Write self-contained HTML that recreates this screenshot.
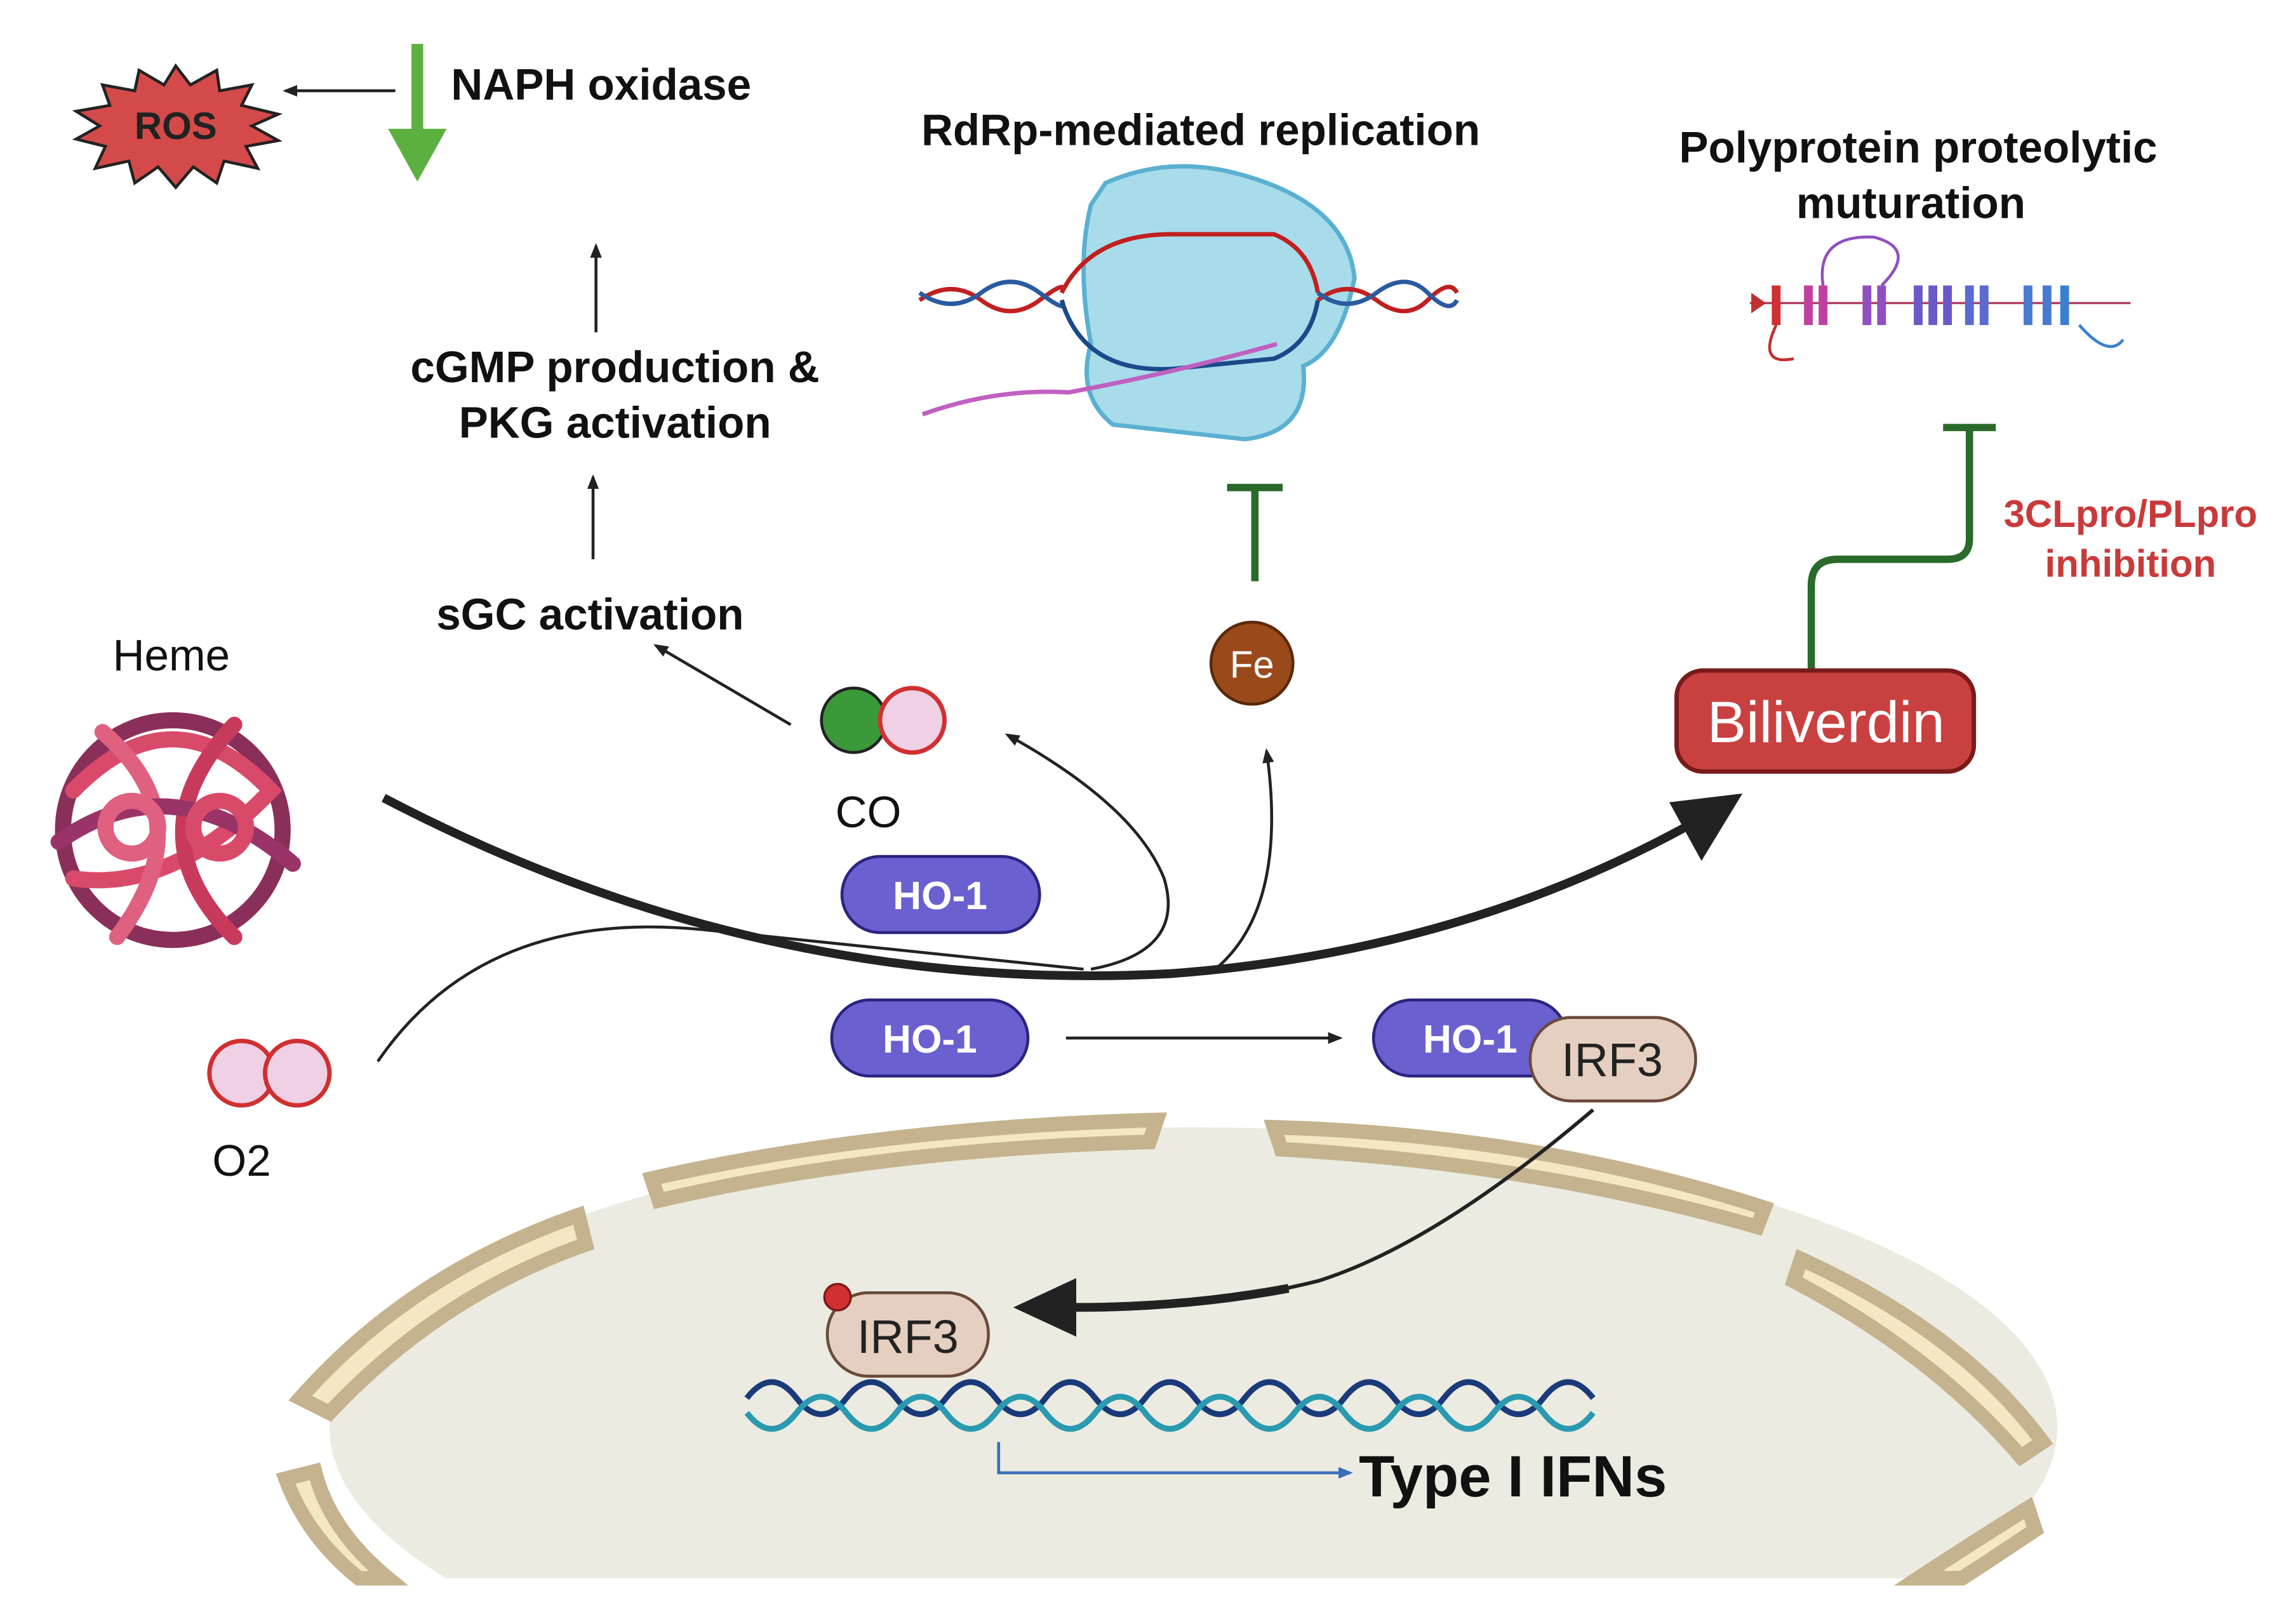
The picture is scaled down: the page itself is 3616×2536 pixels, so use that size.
<!DOCTYPE html>
<html><head><meta charset="utf-8"><style>
html,body{margin:0;padding:0;background:#fff;width:3616px;height:2536px;overflow:hidden}
svg{display:block}
text{font-family:"Liberation Sans",sans-serif}
.b{font-weight:bold}
</style></head><body>
<svg width="3616" height="2536" viewBox="0 0 1568 1099.7" xmlns="http://www.w3.org/2000/svg">
<defs>
<marker id="ah" markerWidth="10" markerHeight="10" refX="8" refY="5" orient="auto" markerUnits="userSpaceOnUse"><path d="M0,1 L10,5 L0,9 Z" fill="#222"/></marker>
<marker id="ahb" markerWidth="10" markerHeight="10" refX="8" refY="5" orient="auto" markerUnits="userSpaceOnUse"><path d="M0,1 L10,5 L0,9 Z" fill="#3a6fb8"/></marker>
</defs>
<ellipse cx="815" cy="975" rx="590" ry="205" fill="#ecebe1"/>
<rect x="0" y="1078" width="1568" height="30" fill="#fff"/>
<g fill="#f4e8c4" stroke="#c4b38e" stroke-width="10" stroke-linecap="round">
<path d="M445,805 Q600,770 790,765 L785,780 Q600,785 450,820 Z"/>
<path d="M870,770 Q1050,775 1205,825 L1200,838 Q1050,795 875,785 Z"/>
<path d="M205,955 Q280,870 395,830 L400,850 Q300,885 225,965 Z"/>
<path d="M1230,860 Q1340,910 1395,985 L1380,995 Q1320,925 1225,875 Z"/>
<path d="M195,1010 Q210,1050 245,1078 L265,1078 Q225,1045 215,1005 Z"/>
<path d="M1310,1078 Q1345,1055 1385,1030 L1390,1045 Q1360,1065 1340,1078 Z"/>
</g>
<polygon points="120,45 130,58 148,48 150,62 172,58 165,72 190,78 172,86 190,96 168,100 176,115 153,110 148,125 132,114 120,128 108,114 92,125 88,110 65,115 72,100 52,95 68,86 52,76 75,72 70,58 92,62 95,48 112,58" fill="#d44a4a" stroke="#222" stroke-width="2"/>
<text x="120" y="95" font-size="26" class="b" text-anchor="middle" fill="#222">ROS</text>
<line x1="270" y1="62" x2="195" y2="62" stroke="#222" stroke-width="2" marker-end="url(#ah)"/>
<line x1="285" y1="30" x2="285" y2="95" stroke="#5cb040" stroke-width="8"/>
<polygon points="265,88 305,88 285,124" fill="#5cb040"/>
<text x="308" y="68" font-size="30" class="b" fill="#111">NAPH oxidase</text>
<line x1="407" y1="227" x2="407" y2="168" stroke="#222" stroke-width="2" marker-end="url(#ah)"/>
<text x="420" y="261" font-size="30" class="b" text-anchor="middle" fill="#111">cGMP production &amp;</text>
<text x="420" y="299" font-size="30" class="b" text-anchor="middle" fill="#111">PKG activation</text>
<line x1="405" y1="382" x2="405" y2="326" stroke="#222" stroke-width="2" marker-end="url(#ah)"/>
<text x="403" y="430" font-size="30" class="b" text-anchor="middle" fill="#111">sGC activation</text>
<line x1="540" y1="495" x2="448" y2="441" stroke="#222" stroke-width="2" marker-end="url(#ah)"/>
<text x="117" y="458" font-size="30" text-anchor="middle" fill="#111">Heme</text>
<g fill="none" stroke-width="11" stroke-linecap="round">
<circle cx="118" cy="567" r="75" stroke="#8a2f5a"/>
<path d="M50,540 Q118,470 185,540 Q118,610 50,600" stroke="#d94a6a"/>
<path d="M70,500 Q140,560 80,640" stroke="#e06080"/>
<path d="M160,495 Q90,570 160,640" stroke="#c83a5c"/>
<path d="M40,575 Q118,520 200,590" stroke="#9a3468"/>
<circle cx="90" cy="565" r="18" stroke="#e06080"/>
<circle cx="150" cy="565" r="18" stroke="#d94a6a"/>
</g>
<circle cx="165" cy="733" r="22" fill="#f0d0e4" stroke="#d03030" stroke-width="3"/>
<circle cx="203" cy="733" r="22" fill="#f0d0e4" stroke="#d03030" stroke-width="3"/>
<text x="165" y="803" font-size="30" text-anchor="middle" fill="#111">O2</text>
<circle cx="583" cy="492" r="22" fill="#3a9a3a" stroke="#222" stroke-width="2"/>
<circle cx="623" cy="492" r="22" fill="#f0d0e4" stroke="#d03030" stroke-width="3"/>
<text x="593" y="565" font-size="30" text-anchor="middle" fill="#111">CO</text>
<path d="M258,725 Q330,620 480,635 Q620,650 740,662" fill="none" stroke="#222" stroke-width="2"/>
<path d="M262,545 Q520,680 800,665 Q1000,650 1160,560" fill="none" stroke="#222" stroke-width="6"/>
<polygon points="1190,542 1140,548 1162,588" fill="#222"/>
<path d="M745,662 Q810,650 795,600 Q775,550 688,502" fill="none" stroke="#222" stroke-width="2" marker-end="url(#ah)"/>
<path d="M830,662 Q880,620 865,513" fill="none" stroke="#222" stroke-width="2" marker-end="url(#ah)"/>
<rect x="575" y="585" width="135" height="52" rx="26" fill="#6a60cf" stroke="#2a2480" stroke-width="2"/>
<text x="642" y="621" font-size="27" class="b" text-anchor="middle" fill="#fff">HO-1</text>
<rect x="568" y="683" width="134" height="52" rx="26" fill="#6a60cf" stroke="#2a2480" stroke-width="2"/>
<text x="635" y="719" font-size="27" class="b" text-anchor="middle" fill="#fff">HO-1</text>
<line x1="728" y1="709" x2="915" y2="709" stroke="#222" stroke-width="2" marker-end="url(#ah)"/>
<rect x="938" y="683" width="132" height="52" rx="26" fill="#6a60cf" stroke="#2a2480" stroke-width="2"/>
<text x="1004" y="719" font-size="27" class="b" text-anchor="middle" fill="#fff">HO-1</text>
<rect x="1045" y="695" width="113" height="57" rx="28" fill="#e5cfc0" stroke="#6a4a3a" stroke-width="2"/>
<text x="1101" y="735" font-size="32" text-anchor="middle" fill="#222">IRF3</text>
<circle cx="855" cy="453" r="28" fill="#9a4a1a" stroke="#5a2a0a" stroke-width="2"/>
<text x="855" y="463" font-size="26" text-anchor="middle" fill="#fff">Fe</text>
<line x1="857" y1="397" x2="857" y2="333" stroke="#2a6a2a" stroke-width="5"/>
<line x1="838" y1="333" x2="876" y2="333" stroke="#2a6a2a" stroke-width="5"/>
<path d="M1237,458 L1237,400 Q1237,382 1255,382 L1330,382 Q1345,382 1345,368 L1345,292" fill="none" stroke="#2a6a2a" stroke-width="5"/>
<line x1="1327" y1="292" x2="1363" y2="292" stroke="#2a6a2a" stroke-width="5"/>
<rect x="1145" y="458" width="203" height="69" rx="18" fill="#c94040" stroke="#7a1a1a" stroke-width="3"/>
<text x="1247" y="507" font-size="40" text-anchor="middle" fill="#fff">Biliverdin</text>
<text x="1455" y="360" font-size="26" class="b" text-anchor="middle" fill="#c83a3a">3CLpro/PLpro</text>
<text x="1455" y="394" font-size="26" class="b" text-anchor="middle" fill="#c83a3a">inhibition</text>
<text x="820" y="99" font-size="30" class="b" text-anchor="middle" fill="#111">RdRp-mediated replication</text>
<path d="M755,125 Q800,105 850,120 Q920,140 925,190 Q915,240 890,250 Q895,295 850,300 L760,290 Q735,270 745,235 Q735,180 745,140 Z" fill="#a8dcea" stroke="#5ab0d0" stroke-width="3"/>
<path d="M628,205 Q650,190 670,205 T710,205 T725,200" fill="none" stroke="#c02020" stroke-width="3"/>
<path d="M628,200 Q650,215 670,200 T710,200 T725,205" fill="none" stroke="#2a5aa0" stroke-width="3"/>
<path d="M725,200 Q745,160 800,160 L870,160 Q895,170 900,200" fill="none" stroke="#c02020" stroke-width="3"/>
<path d="M725,205 Q740,255 800,252 L870,245 Q895,235 900,205" fill="none" stroke="#1a4a8a" stroke-width="3"/>
<path d="M900,205 Q920,190 940,205 T975,205 T995,200" fill="none" stroke="#c02020" stroke-width="3"/>
<path d="M900,200 Q920,215 940,200 T975,200 T995,205" fill="none" stroke="#2a5aa0" stroke-width="3"/>
<path d="M630,283 Q680,265 730,268 Q800,255 872,235" fill="none" stroke="#c060c0" stroke-width="3"/>
<text x="1310" y="111" font-size="30" class="b" text-anchor="middle" fill="#111">Polyprotein proteolytic</text>
<text x="1305" y="149" font-size="30" class="b" text-anchor="middle" fill="#111">muturation</text>
<path d="M1195,207 L1455,207" stroke="#b04060" stroke-width="1.5" fill="none"/>
<polygon points="1196,200 1206,207 1196,214" fill="#c03030"/>
<g stroke-width="6">
<line x1="1213" y1="195" x2="1213" y2="222" stroke="#d03030"/>
<line x1="1235" y1="195" x2="1235" y2="222" stroke="#c040a0"/>
<line x1="1245" y1="195" x2="1245" y2="222" stroke="#c040a0"/>
<line x1="1275" y1="195" x2="1275" y2="222" stroke="#9050c0"/>
<line x1="1285" y1="195" x2="1285" y2="222" stroke="#9050c0"/>
<line x1="1310" y1="195" x2="1310" y2="222" stroke="#6a5ac8"/>
<line x1="1320" y1="195" x2="1320" y2="222" stroke="#6a5ac8"/>
<line x1="1330" y1="195" x2="1330" y2="222" stroke="#6a5ac8"/>
<line x1="1345" y1="195" x2="1345" y2="222" stroke="#5a6ad0"/>
<line x1="1355" y1="195" x2="1355" y2="222" stroke="#5a6ad0"/>
<line x1="1385" y1="195" x2="1385" y2="222" stroke="#4a7ad0"/>
<line x1="1398" y1="195" x2="1398" y2="222" stroke="#4a7ad0"/>
<line x1="1410" y1="195" x2="1410" y2="222" stroke="#3a80d0"/>
</g>
<path d="M1245,195 Q1240,160 1280,162 Q1310,170 1285,195" fill="none" stroke="#9050c0" stroke-width="2"/>
<path d="M1213,222 Q1200,250 1225,245" fill="none" stroke="#c03030" stroke-width="2"/>
<path d="M1420,222 Q1440,245 1450,232" fill="none" stroke="#3a80d0" stroke-width="2"/>
<path d="M1088,758 Q980,850 900,875 Q820,895 740,892" fill="none" stroke="#222" stroke-width="2.5"/>
<path d="M880,880 Q810,893 735,893" fill="none" stroke="#222" stroke-width="6"/>
<polygon points="692,893 735,873 735,913" fill="#222"/>
<rect x="565" y="883" width="110" height="57" rx="28" fill="#e5cfc0" stroke="#6a4a3a" stroke-width="2"/>
<text x="620" y="924" font-size="32" text-anchor="middle" fill="#222">IRF3</text>
<circle cx="572" cy="886" r="9" fill="#d03030" stroke="#7a1a1a" stroke-width="1.5"/>
<path d="M510,955 q17,-22 34,0 t34,0 t34,0 t34,0 t34,0 t34,0 t34,0 t34,0 t34,0 t34,0 t34,0 t34,0 t34,0 t34,0 t34,0 t34,0 t34,0" fill="none" stroke="#1a3a7a" stroke-width="4"/>
<path d="M510,965 q17,22 34,0 t34,0 t34,0 t34,0 t34,0 t34,0 t34,0 t34,0 t34,0 t34,0 t34,0 t34,0 t34,0 t34,0 t34,0 t34,0 t34,0" fill="none" stroke="#2a9ab0" stroke-width="4"/>
<path d="M682,985 L682,1006 L922,1006" fill="none" stroke="#3a6fb8" stroke-width="2" marker-end="url(#ahb)"/>
<text x="928" y="1022" font-size="40" class="b" fill="#111">Type I IFNs</text>
</svg>
</body></html>
